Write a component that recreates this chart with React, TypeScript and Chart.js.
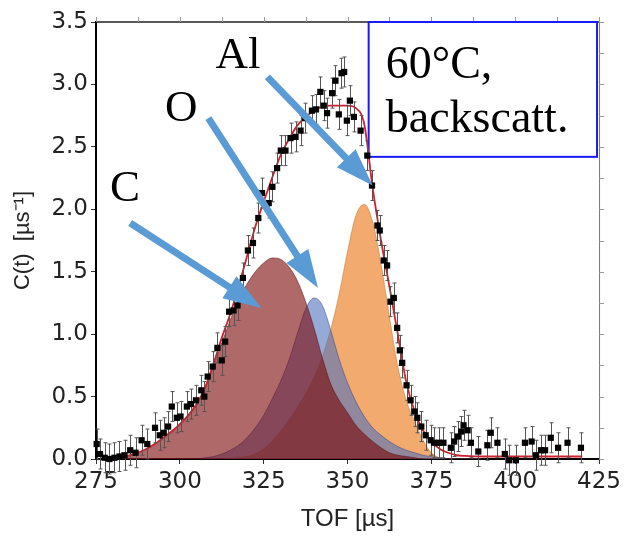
import React, { useEffect, useRef } from 'react';
import { Chart, registerables } from 'chart.js';

Chart.register(...registerables);

// ---- axes ----
const X_MIN = 275;
const X_MAX = 425;
const X_STEP = 25;
const Y_MIN = 0;
const Y_MAX = 3.5;
const Y_STEP = 0.5;

// ---- measured data points (TOF in µs, C(t) in µs^-1) ----
const DATA_TOF = [
  275.2, 276.2, 277.6, 279.0, 280.5, 282.0, 283.5, 285.2, 286.8, 288.6,
  290.3, 292.6, 294.0, 295.2, 296.5, 297.6, 299.1, 300.2, 302.1, 303.3,
  304.8, 306.4, 307.3, 308.3, 309.8, 311.2, 312.5, 313.5, 314.7, 316.0,
  317.2, 318.8, 320.3, 321.8, 323.4, 324.5, 326.5, 327.6, 329.0, 330.1,
  331.5, 333.0, 334.5, 336.0, 337.4, 339.4, 340.6, 341.9, 342.9, 343.9,
  345.4, 346.4, 347.4, 348.2, 349.0, 349.8, 350.7, 351.9, 353.9, 355.9,
  357.3, 358.9, 359.6, 360.8, 361.8, 362.8, 363.8, 364.8, 365.6, 366.3,
  367.6, 368.8, 370.0, 370.8, 372.0, 373.3, 374.8, 375.8, 377.3, 378.6,
  380.8, 381.8, 382.9, 383.9, 384.6, 385.8, 386.8, 389.0, 391.7, 392.7,
  394.7, 396.9, 398.2, 400.2, 402.9, 404.9, 406.2, 407.7, 408.9, 410.6,
  412.8, 415.6, 419.6,
];
const DATA_COUNTS = [
  0.12, 0.04, 0.01, 0.00, 0.01, 0.02, 0.03, 0.07, 0.05, 0.15,
  0.12, 0.25, 0.19, 0.21, 0.26, 0.42, 0.33, 0.34, 0.42, 0.44,
  0.47, 0.55, 0.50, 0.66, 0.74, 0.89, 0.79, 0.94, 1.18, 1.19,
  1.23, 1.45, 1.67, 1.73, 1.93, 2.13, 2.05, 2.18, 2.33, 2.47,
  2.47, 2.57, 2.58, 2.63, 2.73, 2.79, 2.80, 2.94, 2.83, 2.77,
  2.93, 3.03, 2.76, 3.09, 3.10, 2.71, 2.87, 2.74, 2.63, 2.43,
  2.19, 1.87, 1.83, 1.59, 1.55, 1.26, 1.29, 1.05, 0.87, 0.77,
  0.59, 0.47, 0.38, 0.33, 0.26, 0.19, 0.15, 0.13, 0.13, 0.13,
  0.09, 0.14, 0.18, 0.22, 0.27, 0.23, 0.13, 0.06, 0.11, 0.21,
  0.13, 0.04, -0.01, -0.01, 0.13, 0.14, 0.03, 0.07, 0.07, 0.17,
  0.09, 0.13, 0.09,
];
const DATA_ERR = 0.12;

// ---- total fit ----
const FIT_TOF = [
  277.5, 280, 282.5, 285, 287.5, 290, 292.5, 295, 297.5, 300,
  302.5, 305, 307.5, 310, 312.5, 315, 317.5, 320, 322.5, 325,
  327.5, 330, 332.5, 335, 337.5, 340, 342.5, 345, 347.5, 350,
  352.5, 355, 357.5, 360, 362.5, 365, 367.5, 370, 372.5, 375,
  377.5, 380, 382.5, 385, 390, 400, 410, 420,
];
const FIT_VAL = [
  0.01, 0.01, 0.02, 0.03, 0.05, 0.08, 0.12, 0.17, 0.22, 0.28,
  0.35, 0.44, 0.57, 0.76, 0.97, 1.16, 1.38, 1.62, 1.86, 2.06,
  2.25, 2.43, 2.56, 2.67, 2.74, 2.79, 2.82, 2.83, 2.83, 2.83,
  2.81, 2.68, 2.17, 1.75, 1.38, 1.00, 0.62, 0.38, 0.23, 0.14,
  0.08, 0.05, 0.03, 0.025, 0.02, 0.02, 0.02, 0.02,
];

// ---- components ----
const COMP_TOF = [
  280, 282.5, 285, 287.5, 290, 292.5, 295, 297.5, 300, 302.5,
  305, 307.5, 310, 312.5, 315, 317.5, 320, 322.5, 325, 327.5,
  330, 332.5, 335, 337.5, 340, 342.5, 345, 347.5, 350, 352.5,
  355, 357.5, 360, 362.5, 365, 367.5, 370, 372.5, 375, 377.5,
  380, 382.5, 385, 387.5, 390,
];
const COMP_C = [
  0.005, 0.015, 0.03, 0.05, 0.08, 0.12, 0.16, 0.21, 0.27, 0.34,
  0.43, 0.56, 0.74, 0.93, 1.11, 1.28, 1.40, 1.50, 1.57, 1.61,
  1.60, 1.54, 1.43, 1.26, 1.05, 0.81, 0.60, 0.47, 0.37, 0.27,
  0.20, 0.14, 0.09, 0.05, 0.03, 0.02, 0.01, 0, 0, 0,
  0, 0, 0, 0, 0,
];
const COMP_O = [
  0, 0, 0, 0, 0, 0, 0, 0, 0, 0,
  0, 0.01, 0.02, 0.04, 0.07, 0.11, 0.17, 0.25, 0.35, 0.48,
  0.62, 0.79, 1.00, 1.20, 1.29, 1.23, 1.03, 0.80, 0.61, 0.46,
  0.34, 0.25, 0.19, 0.14, 0.10, 0.07, 0.05, 0.03, 0.02, 0.01,
  0, 0, 0, 0, 0,
];
const COMP_AL = [
  0, 0, 0, 0, 0, 0, 0, 0, 0, 0,
  0, 0, 0, 0, 0.005, 0.01, 0.02, 0.04, 0.08, 0.14,
  0.22, 0.31, 0.41, 0.52, 0.65, 0.82, 1.04, 1.32, 1.66, 1.95,
  2.04, 1.90, 1.56, 1.14, 0.74, 0.47, 0.30, 0.15, 0.05, 0.01,
  0, 0, 0, 0, 0,
];

// ---- annotations (data coordinates) ----
const LABELS = [
  { text: 'Al', x: 310.6, y: 3.13 },
  { text: 'O', x: 295.6, y: 2.71 },
  { text: 'C', x: 279.2, y: 2.07 },
];
const ARROWS = [
  { from: [326.1, 3.06], to: [357.5, 2.19] },
  { from: [308.5, 2.73], to: [341.2, 1.37] },
  { from: [285.2, 1.89], to: [324.3, 1.21] },
];
const BOX = { x0: 356.3, y0: 3.5, x1: 424.4, y1: 2.42 };
const BOX_LINES = [
  { text: '60°C,', x: 361.4, y: 3.05 },
  { text: 'backscatt.', x: 361.4, y: 2.62 },
];

const pts = (xs: number[], ys: number[]) => xs.map((x, i) => ({ x, y: ys[i] }));

const framePlugin = {
  id: 'frame',
  beforeDatasetsDraw(chart: any) {
    const { ctx, chartArea: a } = chart;
    const xs = chart.scales.x;
    const ys = chart.scales.y;
    ctx.save();
    ctx.strokeStyle = '#222';
    ctx.lineWidth = 1.5;
    ctx.beginPath();
    ctx.moveTo(a.left, a.top);
    ctx.lineTo(a.right, a.top);
    ctx.stroke();
    ctx.strokeStyle = '#777';
    ctx.lineWidth = 1;
    ctx.beginPath();
    ctx.moveTo(a.right + 0.5, a.top);
    ctx.lineTo(a.right + 0.5, a.bottom);
    ctx.stroke();
    ctx.strokeStyle = '#999';
    ctx.beginPath();
    for (let v = X_MIN; v <= X_MAX + 1e-6; v += X_STEP / 2) {
      const px = Math.round(xs.getPixelForValue(v)) + 0.5;
      ctx.moveTo(px, a.top);
      ctx.lineTo(px, a.top - 5);
    }
    for (let v = Y_MIN; v <= Y_MAX + 1e-6; v += Y_STEP / 2) {
      const py = Math.round(ys.getPixelForValue(v)) + 0.5;
      ctx.moveTo(a.right, py);
      ctx.lineTo(a.right + 5, py);
    }
    ctx.stroke();
    const bx0 = xs.getPixelForValue(BOX.x0);
    const by0 = ys.getPixelForValue(BOX.y0);
    const bx1 = xs.getPixelForValue(BOX.x1);
    const by1 = ys.getPixelForValue(BOX.y1);
    ctx.fillStyle = '#ffffff';
    ctx.fillRect(bx0, by0, bx1 - bx0, by1 - by0);
    ctx.strokeStyle = '#1a1aff';
    ctx.lineWidth = 2;
    ctx.strokeRect(bx0, by0, bx1 - bx0, by1 - by0);
    ctx.fillStyle = '#000';
    ctx.font = '46px "Liberation Serif", "Times New Roman", serif';
    ctx.textAlign = 'left';
    ctx.textBaseline = 'alphabetic';
    BOX_LINES.forEach((l) => {
      ctx.fillText(l.text, xs.getPixelForValue(l.x), ys.getPixelForValue(l.y));
    });
    ctx.restore();
  },
};

const errorBarPlugin = {
  id: 'errorBars',
  beforeDatasetDraw(chart: any, args: any) {
    if (args.index !== 0) return;
    const { ctx } = chart;
    const xs = chart.scales.x;
    const ys = chart.scales.y;
    ctx.save();
    ctx.strokeStyle = '#555';
    ctx.lineWidth = 1;
    ctx.beginPath();
    DATA_TOF.forEach((t, i) => {
      const px = Math.round(xs.getPixelForValue(t)) + 0.5;
      const top = ys.getPixelForValue(DATA_COUNTS[i] + DATA_ERR);
      const bot = ys.getPixelForValue(DATA_COUNTS[i] - DATA_ERR);
      ctx.moveTo(px, top);
      ctx.lineTo(px, bot);
      ctx.moveTo(px - 2, top);
      ctx.lineTo(px + 2, top);
      ctx.moveTo(px - 2, bot);
      ctx.lineTo(px + 2, bot);
    });
    ctx.stroke();
    ctx.restore();
  },
};

const annotationPlugin = {
  id: 'annotations',
  afterDatasetsDraw(chart: any) {
    const { ctx } = chart;
    const xs = chart.scales.x;
    const ys = chart.scales.y;
    ctx.save();
    const headLen = 38;
    const headHalf = 13;
    ctx.strokeStyle = '#5b9bd5';
    ctx.fillStyle = '#5b9bd5';
    ctx.lineWidth = 7;
    ctx.lineCap = 'butt';
    ARROWS.forEach((a) => {
      const x0 = xs.getPixelForValue(a.from[0]);
      const y0 = ys.getPixelForValue(a.from[1]);
      const x1 = xs.getPixelForValue(a.to[0]);
      const y1 = ys.getPixelForValue(a.to[1]);
      const dx = x1 - x0;
      const dy = y1 - y0;
      const L = Math.hypot(dx, dy);
      const ux = dx / L;
      const uy = dy / L;
      const bx = x1 - ux * headLen;
      const by = y1 - uy * headLen;
      ctx.beginPath();
      ctx.moveTo(x0, y0);
      ctx.lineTo(bx + ux * 3, by + uy * 3);
      ctx.stroke();
      ctx.beginPath();
      ctx.moveTo(x1, y1);
      ctx.lineTo(bx - uy * headHalf, by + ux * headHalf);
      ctx.lineTo(bx + uy * headHalf, by - ux * headHalf);
      ctx.closePath();
      ctx.fill();
    });
    ctx.fillStyle = '#000';
    ctx.font = '45px "Liberation Serif", "Times New Roman", serif';
    ctx.textAlign = 'left';
    ctx.textBaseline = 'alphabetic';
    LABELS.forEach((l) => {
      ctx.fillText(l.text, xs.getPixelForValue(l.x), ys.getPixelForValue(l.y));
    });
    ctx.restore();
  },
};

export default function App() {
  const ref = useRef<HTMLCanvasElement | null>(null);
  useEffect(() => {
    if (!ref.current) return;
    const tickFont = { family: '"DejaVu Sans", sans-serif', size: 23 };
    const chart = new Chart(ref.current, {
      type: 'line',
      data: {
        datasets: [
          {
            type: 'scatter',
            label: 'data',
            data: pts(DATA_TOF, DATA_COUNTS),
            showLine: false,
            pointStyle: 'rect',
            pointRadius: 4.4,
            pointBackgroundColor: '#000',
            pointBorderWidth: 0,
            order: 0,
            clip: false,
          } as any,
          {
            label: 'fit',
            data: pts(FIT_TOF, FIT_VAL),
            borderColor: '#d0202c',
            borderWidth: 1.8,
            pointRadius: 0,
            fill: false,
            cubicInterpolationMode: 'monotone',
            order: 1,
          },
          {
            label: 'C',
            data: pts(COMP_TOF, COMP_C),
            borderColor: 'rgba(90,20,20,0.55)',
            borderWidth: 1,
            backgroundColor: 'rgba(122,5,5,0.6)',
            pointRadius: 0,
            fill: 'origin',
            cubicInterpolationMode: 'monotone',
            order: 2,
          },
          {
            label: 'O',
            data: pts(COMP_TOF, COMP_O),
            borderColor: 'rgba(60,70,140,0.55)',
            borderWidth: 1,
            backgroundColor: 'rgba(80,113,188,0.6)',
            pointRadius: 0,
            fill: 'origin',
            cubicInterpolationMode: 'monotone',
            order: 3,
          },
          {
            label: 'Al',
            data: pts(COMP_TOF, COMP_AL),
            borderColor: 'rgba(200,110,40,0.5)',
            borderWidth: 1,
            backgroundColor: 'rgba(233,113,13,0.6)',
            pointRadius: 0,
            fill: 'origin',
            cubicInterpolationMode: 'monotone',
            order: 4,
          },
        ],
      },
      options: {
        responsive: false,
        animation: false,
        devicePixelRatio: 1,
        layout: { padding: { top: 22, right: 25, left: 0, bottom: 0 } },
        plugins: { legend: { display: false }, tooltip: { enabled: false } },
        scales: {
          x: {
            type: 'linear',
            min: X_MIN,
            max: X_MAX,
            ticks: { stepSize: X_STEP, font: tickFont, color: '#222', padding: 4, maxRotation: 0 },
            grid: { drawOnChartArea: false, drawTicks: true, tickLength: 5, color: '#333' },
            border: { display: true, color: '#000', width: 2 },
            title: {
              display: true,
              text: 'TOF [µs]',
              font: { family: '"Liberation Sans", Arial, sans-serif', size: 24 },
              color: '#222',
              padding: { top: 0, bottom: 4 },
            },
            afterFit: (s: any) => {
              s.height = 79;
            },
          },
          y: {
            type: 'linear',
            min: Y_MIN,
            max: Y_MAX,
            ticks: {
              stepSize: Y_STEP,
              font: tickFont,
              color: '#222',
              padding: 3,
              callback: (v: any) => Number(v).toFixed(1),
            },
            grid: { drawOnChartArea: false, drawTicks: true, tickLength: 5, color: '#333' },
            border: { display: true, color: '#000', width: 2 },
            title: {
              display: true,
              text: 'C(t)  [µs⁻¹]',
              font: { family: '"Liberation Sans", Arial, sans-serif', size: 22 },
              color: '#222',
              padding: { top: 10, bottom: 0 },
            },
            afterFit: (s: any) => {
              s.width = 96;
            },
          },
        },
      },
      plugins: [framePlugin, errorBarPlugin, annotationPlugin],
    });
    return () => chart.destroy();
  }, []);
  return (
    <div style={{ position: 'fixed', left: 0, top: 0, width: 625, height: 538, background: '#fff' }}>
      <canvas ref={ref} width={625} height={538} style={{ width: 625, height: 538, display: 'block' }} />
    </div>
  );
}
